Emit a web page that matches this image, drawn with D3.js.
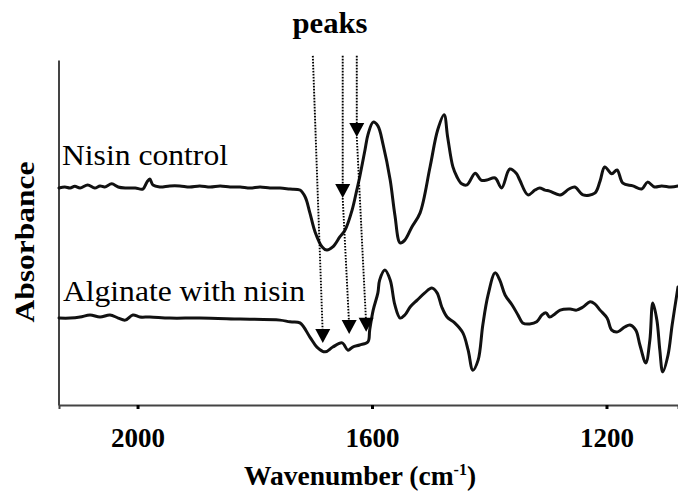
<!DOCTYPE html>
<html>
<head>
<meta charset="utf-8">
<script src="https://cdn.jsdelivr.net/npm/d3@7"></script>
<style>
  html, body { margin: 0; padding: 0; background: #fff; }
  svg { display: block; }
  text { font-family: "Liberation Serif", "Times New Roman", serif; fill: #000; }
</style>
</head>
<body>
<svg id="chart" width="678" height="491"></svg>
<script>
// FTIR spectra: wavenumber (cm-1) vs absorbance (arbitrary units, offset traces)
const nisinControl = [
  [2134,0.629],[2124,0.632],[2115,0.629],[2107,0.634],[2098,0.629],[2085,0.638],[2073,0.629],
  [2064,0.635],[2056,0.632],[2044,0.641],[2033,0.632],[2021,0.629],[2004,0.629],[1991,0.626],
  [1984,0.646],[1979,0.655],[1974,0.638],[1962,0.632],[1945,0.635],[1928,0.635],[1911,0.632],
  [1894,0.635],[1876,0.632],[1859,0.635],[1842,0.632],[1825,0.632],[1808,0.629],[1791,0.632],
  [1774,0.629],[1757,0.629],[1740,0.626],[1723,0.623],[1714,0.603],[1706,0.557],[1697,0.501],
  [1685,0.458],[1677,0.449],[1667,0.458],[1655,0.487],[1646,0.507],[1634,0.565],[1626,0.623],
  [1621,0.661],[1612,0.739],[1607,0.783],[1598,0.820],[1590,0.809],[1581,0.754],[1569,0.652],
  [1561,0.551],[1552,0.470],[1544,0.478],[1532,0.516],[1518,0.557],[1501,0.690],[1488,0.797],
  [1477,0.841],[1471,0.777],[1462,0.690],[1455,0.661],[1447,0.641],[1438,0.638],[1424,0.672],
  [1414,0.652],[1404,0.652],[1390,0.658],[1379,0.629],[1365,0.684],[1354,0.672],[1348,0.652],
  [1334,0.609],[1322,0.623],[1314,0.629],[1305,0.623],[1297,0.620],[1279,0.609],[1264,0.626],
  [1254,0.632],[1240,0.609],[1220,0.614],[1211,0.649],[1203,0.690],[1191,0.670],[1182,0.681],
  [1172,0.643],[1155,0.635],[1140,0.626],[1130,0.646],[1118,0.632],[1106,0.635],[1090,0.632],
  [1078,0.635]
];

const alginateNisin = [
  [2134,0.252],[2115,0.252],[2098,0.255],[2081,0.261],[2064,0.255],[2047,0.261],[2033,0.252],
  [2021,0.246],[2008,0.261],[1996,0.255],[1979,0.255],[1945,0.252],[1894,0.252],[1825,0.249],
  [1757,0.246],[1740,0.241],[1723,0.238],[1706,0.197],[1694,0.168],[1680,0.154],[1667,0.168],
  [1651,0.180],[1641,0.159],[1633,0.168],[1621,0.174],[1607,0.183],[1604,0.217],[1598,0.275],
  [1590,0.325],[1587,0.362],[1578,0.391],[1569,0.362],[1561,0.290],[1552,0.252],[1544,0.261],
  [1535,0.284],[1523,0.304],[1510,0.325],[1498,0.339],[1489,0.325],[1481,0.284],[1472,0.255],
  [1459,0.238],[1445,0.209],[1436,0.159],[1428,0.101],[1419,0.130],[1411,0.232],[1402,0.319],
  [1390,0.383],[1382,0.362],[1373,0.319],[1361,0.290],[1351,0.261],[1343,0.238],[1331,0.235],
  [1319,0.241],[1310,0.261],[1303,0.267],[1297,0.255],[1288,0.264],[1279,0.275],[1262,0.278],
  [1251,0.275],[1240,0.284],[1228,0.299],[1220,0.293],[1211,0.275],[1199,0.252],[1191,0.217],
  [1181,0.212],[1169,0.226],[1160,0.232],[1150,0.217],[1143,0.174],[1133,0.122],[1126,0.188],
  [1121,0.296],[1114,0.246],[1109,0.159],[1104,0.096],[1095,0.145],[1088,0.232],[1078,0.342]
];

const xTicks = [2000, 1600, 1200];
const seriesNames = ["Nisin control", "Alginate with nisin"];

// Peak markers: dotted guide from the top, optional arrow on the upper trace, arrow on the lower trace
const peakTopY = 1.012;
const peakMarkers = [
  { top: 1701, mid: null, bottom: [1684, 0.180] },
  { top: 1650, mid: 0.600, bottom: [1639, 0.206] },
  { top: 1626, mid: 0.777, bottom: [1610, 0.212] }
];

const svg = d3.select("#chart");

const x = d3.scaleLinear().domain([2134, 1078]).range([59, 678]);
const y = d3.scaleLinear().domain([0, 1]).range([405, 60]);

// Axes
const xAxis = svg.append("g")
  .attr("transform", `translate(0,${y(0)})`)
  .call(d3.axisBottom(x).tickValues(xTicks).tickSize(4).tickPadding(18).tickFormat(d3.format("d")));
xAxis.select(".domain").attr("stroke", "#444").attr("stroke-width", 2);
xAxis.selectAll(".tick line").attr("stroke", "#000").attr("stroke-width", 3);
xAxis.selectAll(".tick text")
  .attr("font-family", "'Liberation Serif','Times New Roman',serif")
  .attr("font-weight", "bold")
  .attr("font-size", 27)
  .attr("dy", 0)
  .attr("y", 42);

const yAxis = svg.append("g")
  .attr("transform", `translate(${x.range()[0] - 0.5},0)`)
  .call(d3.axisLeft(y.copy().domain([0, 1.006])).tickValues([]).tickSizeOuter(0));
yAxis.select(".domain").attr("stroke", "#444").attr("stroke-width", 2);

// Spectra
const line = d3.line()
  .x(d => x(d[0]))
  .y(d => y(d[1]))
  .curve(d3.curveCatmullRom.alpha(0.5));

[nisinControl, alginateNisin].forEach(s => {
  svg.append("path")
    .datum(s)
    .attr("fill", "none")
    .attr("stroke", "#111")
    .attr("stroke-width", 3)
    .attr("stroke-linejoin", "round")
    .attr("stroke-linecap", "round")
    .attr("d", line);
});

// Trace labels
svg.append("text")
  .attr("x", 62).attr("y", 165)
  .attr("font-size", 29)
  .attr("textLength", 166).attr("lengthAdjust", "spacingAndGlyphs")
  .text(seriesNames[0]);
svg.append("text")
  .attr("x", 63).attr("y", 301)
  .attr("font-size", 29)
  .attr("textLength", 242).attr("lengthAdjust", "spacingAndGlyphs")
  .text(seriesNames[1]);

// Peak guides and arrowheads
const head = (px, py) => `M${px - 7.5},${py - 14}L${px + 7.5},${py - 14}L${px},${py}Z`;
const guides = svg.append("g");
peakMarkers.forEach(p => {
  const pts = [[p.top, peakTopY]];
  if (p.mid !== null) pts.push([p.top, p.mid]);
  pts.push(p.bottom);
  for (let i = 0; i < pts.length - 1; i++) {
    guides.append("line")
      .attr("x1", x(pts[i][0])).attr("y1", y(pts[i][1]))
      .attr("x2", x(pts[i + 1][0])).attr("y2", y(pts[i + 1][1]) - 8)
      .attr("stroke", "#000")
      .attr("stroke-width", 1.9)
      .attr("stroke-dasharray", "1.6,1.4");
  }
  pts.slice(1).forEach(q => {
    guides.append("path")
      .attr("d", head(x(q[0]), y(q[1])))
      .attr("fill", "#000");
  });
});

svg.append("text")
  .attr("x", 330).attr("y", 33)
  .attr("text-anchor", "middle")
  .attr("font-size", 29).attr("font-weight", "bold")
  .attr("textLength", 75).attr("lengthAdjust", "spacingAndGlyphs")
  .text("peaks");

// Axis titles
const xt = svg.append("text")
  .attr("x", 244).attr("y", 485)
  .attr("font-size", 27.5).attr("font-weight", "bold");
xt.append("tspan").text("Wavenumber (cm");
xt.append("tspan").attr("font-size", 16).attr("dy", -10).text("-1");
xt.append("tspan").attr("dy", 10).text(")");

svg.append("text")
  .attr("transform", "translate(34,242) rotate(-90)")
  .attr("text-anchor", "middle")
  .attr("font-size", 28).attr("font-weight", "bold")
  .attr("textLength", 161).attr("lengthAdjust", "spacingAndGlyphs")
  .text("Absorbance");
</script>
</body>
</html>
